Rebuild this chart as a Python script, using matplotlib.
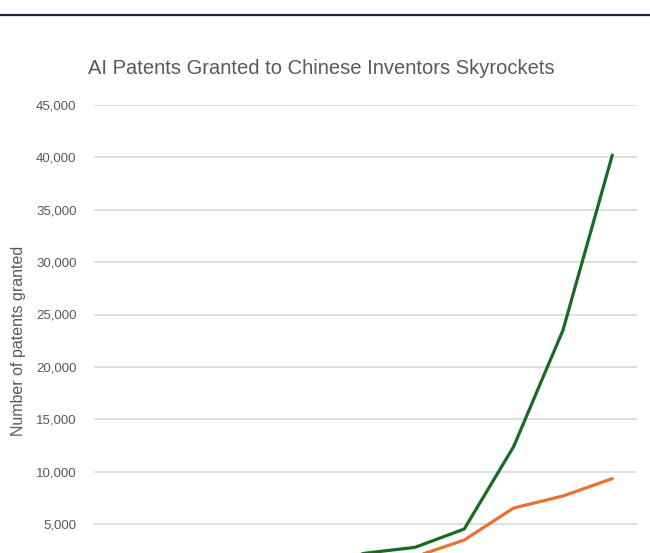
import matplotlib
matplotlib.use("Agg")
import matplotlib.pyplot as plt
from matplotlib.ticker import FuncFormatter, MultipleLocator

years = ["2013", "2014", "2015", "2016", "2017", "2018", "2019", "2020", "2021", "2022", "2023"]
china = [150, 250, 400, 700, 1200, 2250, 2800, 4550, 12400, 23500, 40200]
other = [100, 150, 250, 400, 700, 1100, 1900, 3500, 6550, 7700, 9350]

title = "AI Patents Granted to Chinese Inventors Skyrockets"
ylabel = "Number of patents granted"

W, H = 650, 553
fig = plt.figure(figsize=(W / 100, H / 100), dpi=100)

# top rule
fig.add_artist(plt.Line2D([0, 1], [1 - 14.5 / H, 1 - 14.5 / H], color="#1f2340", lw=1.6))

# the plot area continues below the bottom edge of the picture (cropped chart)
left, right = 94 / W, 637 / W
top_px, zero_px = 104.7, 576.75
ax = fig.add_axes([left, 1 - zero_px / H, right - left, (zero_px - top_px) / H])

x = list(range(len(years)))
ax.plot(x, china, color="#196B24", lw=2.3, solid_capstyle="round", label="China", zorder=3)
ax.plot(x, other, color="#E97132", lw=2.3, solid_capstyle="round", label="Other", zorder=3)

ax.set_xlim(-0.5, len(years) - 0.5)
ax.set_ylim(0, 45000)
ax.yaxis.set_major_locator(MultipleLocator(5000))
ax.yaxis.set_major_formatter(FuncFormatter(lambda v, p: f"{int(v):,}"))
ax.set_xticks(x)
ax.set_xticklabels(years)
ax.grid(axis="y", color="#d9d9d9", lw=1.2)
ax.set_axisbelow(True)
for s in ax.spines.values():
    s.set_visible(False)
ax.tick_params(axis="y", length=0, pad=12.5, labelsize=9.5, labelcolor="#595959")
ax.tick_params(axis="x", length=0, labelsize=9.5, labelcolor="#595959")
for lab in ax.get_yticklabels() + ax.get_xticklabels():
    lab.set_family("Liberation Sans")

fig.text(321 / W, 1 - 68 / H, title, ha="center", va="center", fontsize=14.5,
         color="#595959", family="Liberation Sans")
fig.text(19 / W, 1 - 341 / H, ylabel, ha="center", va="center", rotation=90,
         fontsize=11.5, color="#595959", family="Liberation Sans")

fig.savefig("out.png", dpi=100)
